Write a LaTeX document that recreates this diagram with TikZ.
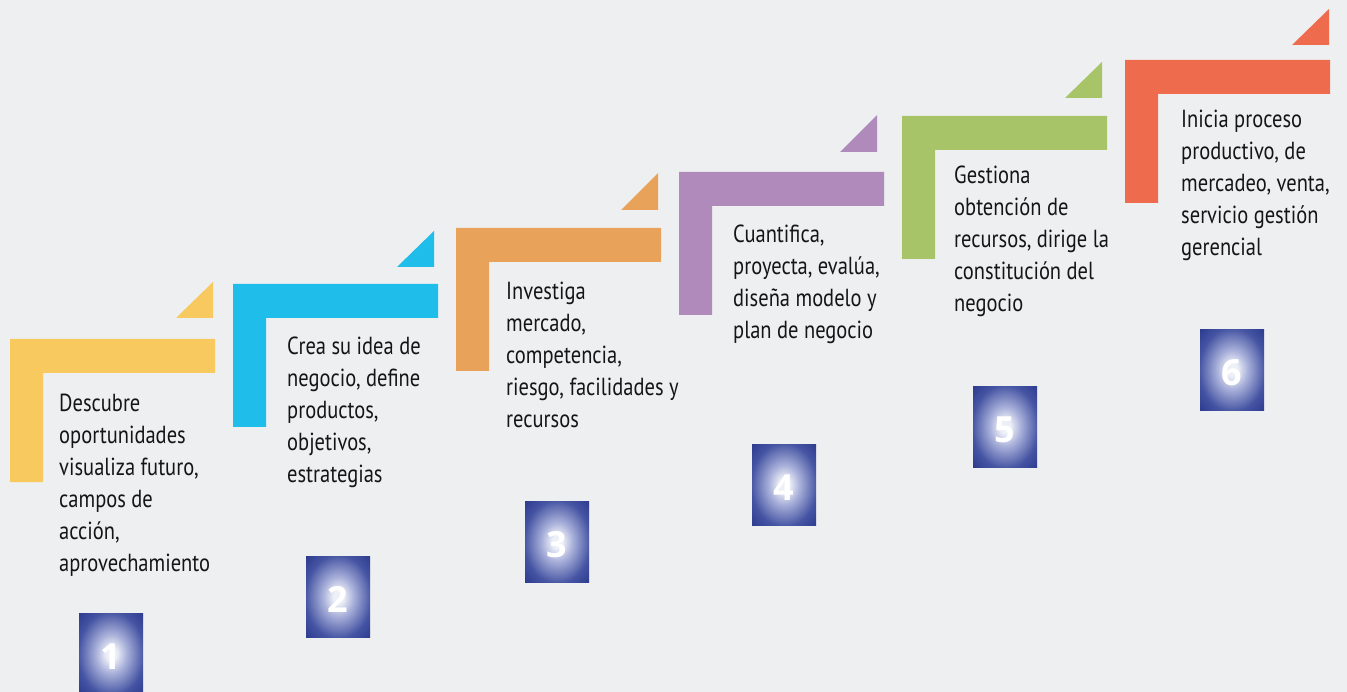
\documentclass[tikz,border=0pt]{standalone}
\usepackage{fontspec}
\setmainfont{PT Sans}[FakeStretch=0.83]
\newfontfamily\numfont{Open Sans}[BoldFont={Open Sans Bold}]
\definecolor{bgc}{HTML}{EEEFF1}
\definecolor{cyel}{HTML}{F7C95F}
\definecolor{cblu}{HTML}{1EBDEA}
\definecolor{cora}{HTML}{E9A25A}
\definecolor{cpur}{HTML}{AF8ABA}
\definecolor{cgre}{HTML}{A7C568}
\definecolor{cred}{HTML}{EE6C4D}
\definecolor{glowc}{HTML}{EEF0F8}
\definecolor{lightc}{HTML}{A9B1DA}
\definecolor{midc}{HTML}{4453A2}
\definecolor{navyc}{HTML}{17267D}
\definecolor{txtc}{HTML}{151515}
\pgfdeclareradialshading{numglow}{\pgfpoint{0bp}{0bp}}{color(0bp)=(glowc); color(4bp)=(glowc); color(12bp)=(lightc); color(26bp)=(midc); color(44bp)=(navyc); color(80bp)=(navyc)}
\newcommand{\steplines}[1]{\vtop{\halign{##\hfil\cr#1\crcr}}}
\begin{document}
\begin{tikzpicture}[x=1pt,y=-1pt,
  steptext/.style={anchor=base west,inner sep=0pt,text=txtc,font=\fontsize{24.7}{32}\selectfont},
  numbox/.style={anchor=north west,inner sep=0pt,minimum width=64pt,minimum height=81pt,shading=numglow},
  numtext/.style={text=white,font=\numfont\bfseries\fontsize{36}{36}\selectfont,inner sep=0pt}]
\useasboundingbox[fill=bgc] (0,0) rectangle (1347,692);
\clip (0,0) rectangle (1347,692);
% L shapes and triangles
\foreach \X/\Y/\tl/\tb/\tr/\tt/\col in {10/339/176/318/213/282/cyel, 233/284/397/267/434/231/cblu, 456/228/621/210/658/173/cora, 679/172/840/152/877/115/cpur, 902/116/1065/98/1102/62/cgre, 1125/60/1292/45/1329/9/cred}{
  \fill[\col] (\X,\Y) -- ++(205,0) -- ++(0,34) -- ++(-172,0) -- ++(0,109) -- ++(-33,0) -- cycle;
  \fill[\col] (\tl,\tb) -- (\tr,\tb) -- (\tr,\tt) -- cycle;
}
% texts
\node[steptext] (t1) at (59,412) {\steplines{Descubre\cr oportunidades\cr visualiza futuro,\cr campos de\cr acción,\cr aprovechamiento}};
\node[steptext] (t2) at (287,355) {\steplines{Crea su idea de\cr negocio, define\cr productos,\cr objetivos,\cr estrategias}};
\node[steptext] (t3) at (506,300) {\steplines{Investiga\cr mercado,\cr competencia,\cr riesgo, facilidades y\cr recursos}};
\node[steptext] (t4) at (733,243) {\steplines{Cuantifica,\cr proyecta, evalúa,\cr diseña modelo y\cr plan de negocio}};
\node[steptext] (t5) at (954,184) {\steplines{Gestiona\cr obtención de\cr recursos, dirige la\cr constitución del\cr negocio}};
\node[steptext] (t6) at (1181,128) {\steplines{Inicia proceso\cr productivo, de\cr mercadeo, venta,\cr servicio gestión\cr gerencial}};
% number boxes
\foreach \n/\bx/\by in {1/79/613, 2/306/556, 3/525/501, 4/752/444, 5/973/386, 6/1200/329}{
  \node[numbox] (b\n) at (\bx,\by) {};
  \node[numtext] (n\n) at ([yshift=-3pt]b\n.center) {\n};
}
\end{tikzpicture}
\end{document}
